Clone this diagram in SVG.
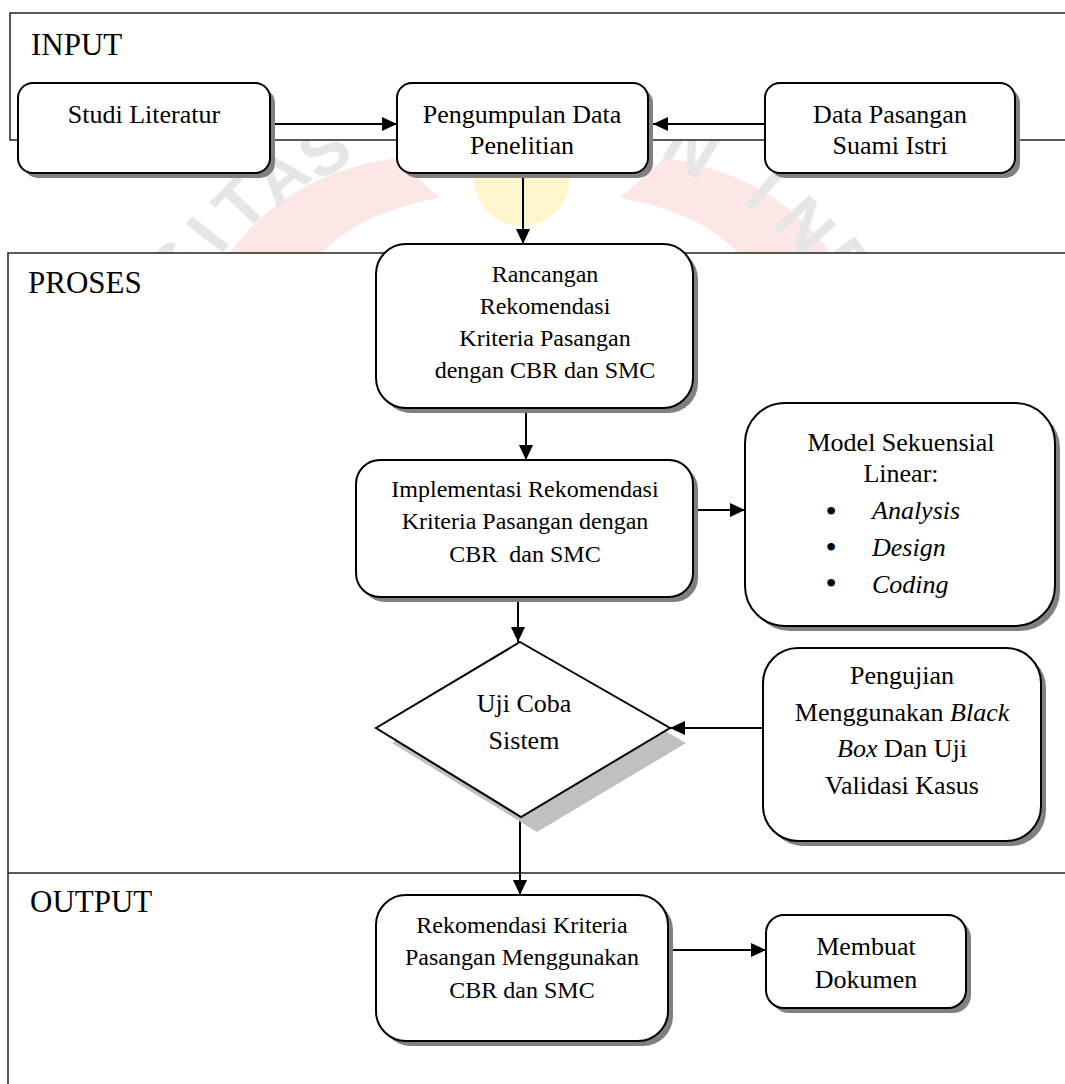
<svg xmlns="http://www.w3.org/2000/svg" width="1065" height="1084" viewBox="0 0 1065 1084">
<style>
.frame{fill:#fff;stroke:#222;stroke-width:1.5}
.box{fill:#fff;stroke:#000;stroke-width:2}
.shadow{fill:#808080}
.t{font-family:"Liberation Serif","Times New Roman",serif;fill:#000;text-anchor:middle}
.s26{font-size:26px}
.s24{font-size:24px}
.sec{font-family:"Liberation Serif","Times New Roman",serif;font-size:31px;fill:#000}
.it{font-style:italic}
.bul{font-size:32px}
.conn{stroke:#000;stroke-width:2;fill:none;marker-end:url(#ah)}
.wm{font-family:"Liberation Sans",Arial,sans-serif;font-size:68px;font-weight:bold;fill:#e6e6e6;text-anchor:middle}
</style>
<defs>
<marker id="ah" markerUnits="userSpaceOnUse" markerWidth="16" markerHeight="14" refX="15" refY="7" orient="auto">
<path d="M0,0 L15,7 L0,14 Z" fill="#000"/>
</marker>
</defs>
<rect width="1065" height="1084" fill="#fff"/>
<g id="watermark">
<path d="M 230 253 Q 285 175 395 158 L 440 198 Q 360 212 322 253 Z" fill="#fce7e7"/>
<path d="M 830 253 Q 775 175 665 158 L 620 198 Q 700 212 738 253 Z" fill="#fce7e7"/>
<circle cx="522" cy="178" r="48" fill="#fff5cc"/>
<text class="wm" transform="translate(176,266) rotate(-58)" y="24">S</text>
<text class="wm" transform="translate(207,234) rotate(-52)" y="24">I</text>
<text class="wm" transform="translate(240,204) rotate(-46)" y="24">T</text>
<text class="wm" transform="translate(280,175) rotate(-40)" y="24">A</text>
<text class="wm" transform="translate(324,150) rotate(-33)" y="24">S</text>
<text class="wm" transform="translate(692,148) rotate(32)" y="24">N</text>
<text class="wm" transform="translate(764,190) rotate(42)" y="24">I</text>
<text class="wm" transform="translate(806,225) rotate(48)" y="24">N</text>
<text class="wm" transform="translate(848,266) rotate(54)" y="24">D</text>
</g>
<g id="frames">
<rect class="frame" x="10" y="13" width="1070" height="127"/>
<rect class="frame" x="8" y="253" width="1070" height="850"/>
<line x1="8" y1="873" x2="1065" y2="873" stroke="#222" stroke-width="1.5"/>
<text class="sec" x="31" y="55">INPUT</text>
<text class="sec" x="28" y="293">PROSES</text>
<text class="sec" x="30" y="912">OUTPUT</text>
</g>
<g id="connectors">
<path class="conn" d="M 275 124 L 397 124"/>
<path class="conn" d="M 765 124 L 653 124"/>
<path class="conn" d="M 523 176 L 523 244"/>
<path class="conn" d="M 526 411 L 526 460"/>
<path class="conn" d="M 698 510 L 745 510"/>
<path class="conn" d="M 518 601 L 518 642"/>
<path class="conn" d="M 763 728 L 670 728"/>
<path class="conn" d="M 520 818 L 520 895"/>
<path class="conn" d="M 672 950 L 766 950"/>
</g>
<g id="studi">
<rect class="shadow" x="23" y="88" width="252" height="90" rx="15"/>
<rect class="box" x="18" y="83" width="252" height="90" rx="15"/>
<text class="t s26" x="144" y="123">Studi Literatur</text>
</g>
<g id="pengumpulan">
<rect class="shadow" x="402" y="88" width="251" height="90" rx="15"/>
<rect class="box" x="397" y="83" width="251" height="90" rx="15"/>
<text class="t s26" x="522" y="123">Pengumpulan Data</text>
<text class="t s26" x="522" y="154">Penelitian</text>
</g>
<g id="datapasangan">
<rect class="shadow" x="770" y="88" width="250" height="90" rx="15"/>
<rect class="box" x="765" y="83" width="250" height="90" rx="15"/>
<text class="t s26" x="890" y="123">Data Pasangan</text>
<text class="t s26" x="890" y="154">Suami Istri</text>
</g>
<g id="rancangan">
<rect class="shadow" x="381" y="249" width="317" height="164" rx="30"/>
<rect class="box" x="376" y="244" width="317" height="164" rx="30"/>
<text class="t s24" x="545" y="282">Rancangan</text>
<text class="t s24" x="545" y="314">Rekomendasi</text>
<text class="t s24" x="545" y="346">Kriteria Pasangan</text>
<text class="t s24" x="545" y="378">dengan CBR dan SMC</text>
</g>
<g id="implementasi">
<rect class="shadow" x="361" y="465" width="337" height="137" rx="24"/>
<rect class="box" x="356" y="460" width="337" height="137" rx="24"/>
<text class="t s24" x="525" y="497">Implementasi Rekomendasi</text>
<text class="t s24" x="525" y="529">Kriteria Pasangan dengan</text>
<text class="t s24" x="525" y="562" style="white-space:pre">CBR  dan SMC</text>
</g>
<g id="model">
<rect class="shadow" x="750" y="408" width="310" height="223" rx="40"/>
<rect class="box" x="745" y="403" width="310" height="223" rx="40"/>
<text class="t s26" x="901" y="451">Model Sekuensial</text>
<text class="t s26" x="901" y="482">Linear:</text>
<text class="t bul" x="831" y="522">•</text>
<text class="t bul" x="831" y="558">•</text>
<text class="t bul" x="831" y="594">•</text>
<text class="t s26 it" x="872" y="519" style="text-anchor:start">Analysis</text>
<text class="t s26 it" x="872" y="556" style="text-anchor:start">Design</text>
<text class="t s26 it" x="872" y="593" style="text-anchor:start">Coding</text>
</g>
<g id="ujicoba">
<polygon points="536,657 686,743 537,832 392,743" fill="#c0c0c0"/>
<polygon points="520,642 670,728 521,817 376,728" fill="#fff" stroke="#000" stroke-width="2"/>
<text class="t s26" x="524" y="712">Uji Coba</text>
<text class="t s26" x="524" y="749">Sistem</text>
</g>
<g id="pengujian">
<rect class="shadow" x="768" y="653" width="278" height="193" rx="35"/>
<rect class="box" x="763" y="648" width="278" height="193" rx="35"/>
<text class="t s26" x="902" y="684">Pengujian</text>
<text class="t s26" x="902" y="721">Menggunakan <tspan class="it">Black</tspan></text>
<text class="t s26" x="902" y="757"><tspan class="it">Box</tspan> Dan Uji</text>
<text class="t s26" x="902" y="794">Validasi Kasus</text>
</g>
<g id="rekomendasi">
<rect class="shadow" x="381" y="900" width="292" height="146" rx="30"/>
<rect class="box" x="376" y="895" width="292" height="146" rx="30"/>
<text class="t s24" x="522" y="933">Rekomendasi Kriteria</text>
<text class="t s24" x="522" y="965">Pasangan Menggunakan</text>
<text class="t s24" x="522" y="998">CBR dan SMC</text>
</g>
<g id="membuat">
<rect class="shadow" x="771" y="920" width="200" height="93" rx="18"/>
<rect class="box" x="766" y="915" width="200" height="93" rx="18"/>
<text class="t s26" x="866" y="955">Membuat</text>
<text class="t s26" x="866" y="988">Dokumen</text>
</g>
</svg>
